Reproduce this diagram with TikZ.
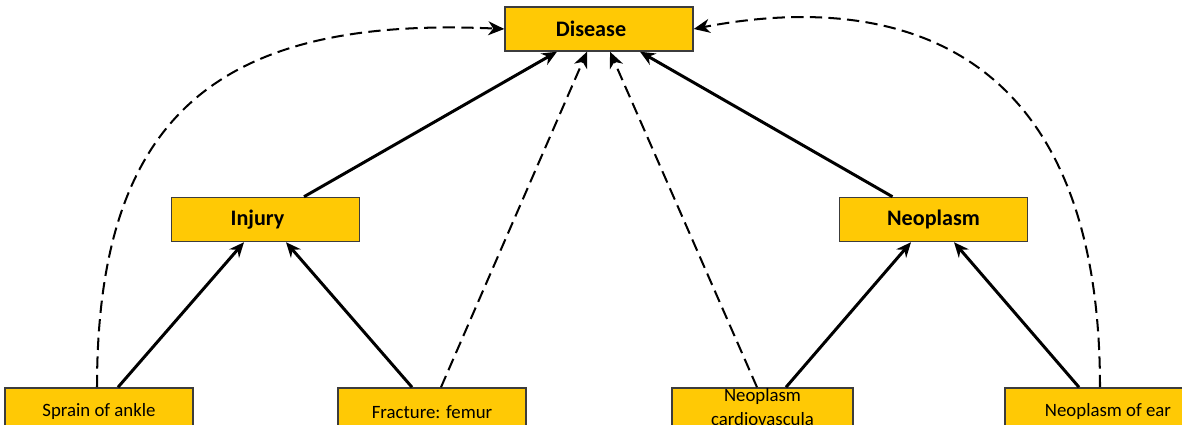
\documentclass[tikz,border=0pt]{standalone}
\usepackage{fontspec}
\setmainfont{Carlito}
\usepackage{tikz}
\usetikzlibrary{
    arrows.meta,
    positioning
}
\definecolor{nodeyellow}{RGB}{255,201,5}
\definecolor{nodeline}{RGB}{60,60,60}

\begin{document}
\begin{tikzpicture}[
    topbox/.style={
        draw=nodeline,
        line width=0.85pt,
        fill=nodeyellow,
        align=center,
        minimum width=3.76cm,
        minimum height=0.88cm,
        inner sep=0pt,
        font=\fontsize{12.6}{15}\selectfont\bfseries
    },
    leafbox/.style={
        draw=nodeline,
        line width=0.85pt,
        fill=nodeyellow,
        align=center,
        minimum width=3.76cm,
        minimum height=0.96cm,
        inner sep=2pt,
        font=\fontsize{10.7}{13}\selectfont
    },
    isa/.style={
        -{Stealth[length=3mm,width=2.6mm,inset=1mm]},
        line width=1.7pt
    },
    inferred/.style={
        -{Stealth[length=3.2mm,width=2.8mm,inset=1mm]},
        line width=1.15pt,
        dash pattern=on 7pt off 3.6pt
    }
]

\useasboundingbox (0,0) rectangle (23.64,8.5);
\clip (0,0) rectangle (23.64,8.5);

\node[topbox] (disease) at (11.98,7.92) {Disease\hspace*{0.32cm}};

\node[
    topbox,
    below left=2.9cm and 2.88cm of disease
] (injury) {Injury\hspace*{0.32cm}};

\node[
    topbox,
    below right=2.9cm and 2.9cm of disease
] (neoplasm) {Neoplasm};

\node[
    leafbox,
    below=2.9cm of injury,
    xshift=-3.33cm
] (sprain) {Sprain of ankle};

\node[
    leafbox,
    below=2.9cm of injury,
    xshift=3.33cm
] (fracture) {Fracture: femur};

\node[
    leafbox,
    minimum width=3.62cm,
    inner ysep=0pt,
    text depth=0.7cm,
    below=2.9cm of neoplasm,
    xshift=-3.42cm
] (cardio) {Neoplasm\\[1pt]cardiovascula};

\node[
    leafbox,
    below=2.9cm of neoplasm,
    xshift=3.31cm
] (ear) {\hspace*{0.36cm}Neoplasm of ear};

% solid is-a links
\draw[isa] ([xshift=0.77cm]injury.north) -- ([xshift=-0.84cm]disease.south);
\draw[isa] ([xshift=-0.82cm]neoplasm.north) -- ([xshift=0.82cm]disease.south);
\draw[isa] ([xshift=0.38cm]sprain.north) -- ([xshift=-0.43cm]injury.south);
\draw[isa] ([xshift=-0.4cm]fracture.north) -- ([xshift=0.41cm]injury.south);
\draw[isa] ([xshift=0.47cm]cardio.north) -- ([xshift=-0.45cm]neoplasm.south);
\draw[isa] ([xshift=-0.4cm]ear.north) -- ([xshift=0.41cm]neoplasm.south);

% dashed links straight to the root
\draw[inferred] ([xshift=0.18cm]fracture.north) -- ([xshift=-0.24cm]disease.south);
\draw[inferred] ([xshift=-0.11cm]cardio.north) -- ([xshift=0.22cm]disease.south);
\draw[inferred] ([xshift=-0.04cm]sprain.north)
    .. controls +(0,5.48) and +(-5.66,0.26) .. (disease.west);
\draw[inferred] ([xshift=0.02cm]ear.north)
    .. controls +(0,7.48) and +(3.3,0.64) .. (disease.east);

\end{tikzpicture}
\end{document}
